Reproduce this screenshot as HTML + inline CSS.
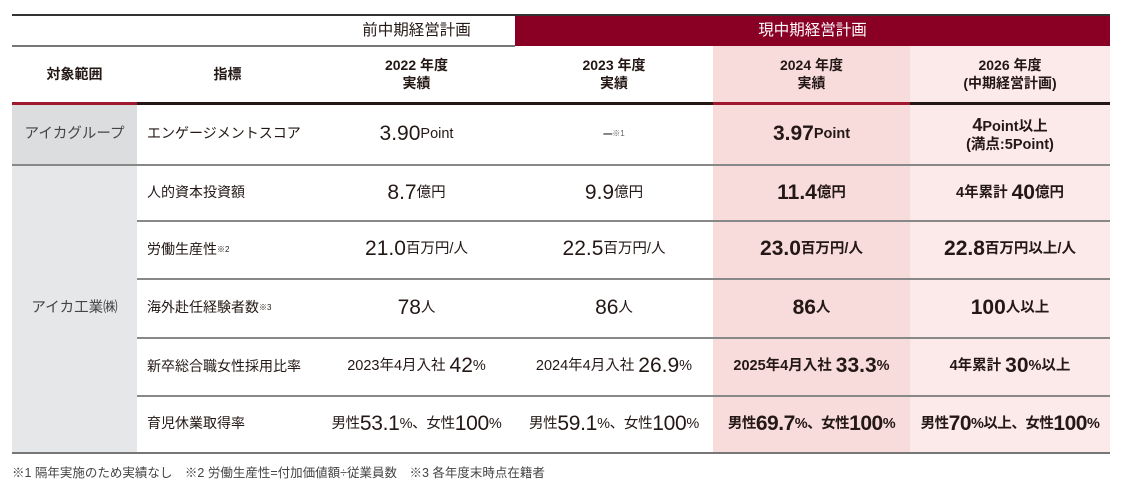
<!DOCTYPE html>
<html><head><meta charset="utf-8"><style>
body{margin:0;background:#fff;width:1129px;height:490px;overflow:hidden;font-family:"Liberation Sans","Noto Sans CJK JP",sans-serif;color:#231815}
.a{position:absolute}
.c{position:absolute;display:flex;align-items:center;justify-content:center;text-align:center;line-height:1.25}
.b{font-size:21px}
.s{font-size:14.5px}
.l{font-size:14px;justify-content:flex-start;padding-left:10px;box-sizing:border-box}
.h{font-size:14px;font-weight:bold}
</style></head><body>
<div class="a" style="left:713px;top:46px;width:197px;height:406px;background:#f8dcdc"></div>
<div class="a" style="left:910px;top:46px;width:200px;height:406px;background:#fce9e9"></div>
<div class="a" style="left:12px;top:103px;width:125px;height:62px;background:#dcdddf"></div>
<div class="a" style="left:12px;top:165px;width:125px;height:287px;background:#e6e7e9"></div>
<div class="a" style="left:515px;top:15px;width:595px;height:31px;background:#8a0024"></div>
<div class="a" style="left:12px;top:14px;width:1098px;height:1.5px;background:#333"></div>
<div class="a" style="left:12px;top:45px;width:503px;height:1.5px;background:#777"></div>
<div class="a" style="left:12px;top:102px;width:1098px;height:2.5px;background:#231815"></div>
<div class="a" style="left:12px;top:102px;width:125px;height:2.5px;background:#a0182f"></div>
<div class="a" style="left:713px;top:102px;width:197px;height:2.5px;background:#a0182f"></div>
<div class="a" style="left:12px;top:164px;width:1098px;height:1.5px;background:#888"></div>
<div class="a" style="left:137px;top:220px;width:973px;height:1.5px;background:#888"></div>
<div class="a" style="left:137px;top:278px;width:973px;height:1.5px;background:#888"></div>
<div class="a" style="left:137px;top:337px;width:973px;height:1.5px;background:#888"></div>
<div class="a" style="left:137px;top:395px;width:973px;height:1.5px;background:#888"></div>
<div class="a" style="left:12px;top:452px;width:1098px;height:1.5px;background:#777"></div>
<div class="c" style="left:318px;top:15px;width:197px;height:31px;font-size:15.5px">前中期経営計画</div>
<div class="c" style="left:515px;top:15px;width:595px;height:31px;font-size:15.5px;color:#fff">現中期経営計画</div>
<div class="c h" style="left:12px;top:46px;width:125px;height:57px">対象範囲</div>
<div class="c h" style="left:137px;top:46px;width:181px;height:57px">指標</div>
<div class="c h" style="left:318px;top:46px;width:197px;height:57px">2022 年度<br>実績</div>
<div class="c h" style="left:515px;top:46px;width:198px;height:57px">2023 年度<br>実績</div>
<div class="c h" style="left:713px;top:46px;width:197px;height:57px">2024 年度<br>実績</div>
<div class="c h" style="left:910px;top:46px;width:200px;height:57px">2026 年度<br>(中期経営計画)</div>
<div class="c s" style="left:12px;top:103px;width:125px;height:62px;color:#444">アイカグループ</div>
<div class="c s" style="left:12px;top:165px;width:125px;height:287px;color:#444">アイカ工業㈱</div>
<div class="c l" style="left:137px;top:103px;width:181px;height:62px">エンゲージメントスコア</div>
<div class="c l" style="left:137px;top:165px;width:181px;height:56px">人的資本投資額</div>
<div class="c l" style="left:137px;top:221px;width:181px;height:57px">労働生産性<sup style="font-size:8px">※2</sup></div>
<div class="c l" style="left:137px;top:279px;width:181px;height:58px">海外赴任経験者数<sup style="font-size:8px">※3</sup></div>
<div class="c l" style="left:137px;top:338px;width:181px;height:57px">新卒総合職女性採用比率</div>
<div class="c l" style="left:137px;top:396px;width:181px;height:56px">育児休業取得率</div>
<div class="c" style="left:318px;top:103px;width:197px;height:62px"><span class="b">3.90</span><span class="s">Point</span></div>
<div class="c" style="left:515px;top:103px;width:198px;height:62px"><span style="font-size:16px">–</span><sup style="font-size:8px;color:#666">※1</sup></div>
<div class="c" style="left:713px;top:103px;width:197px;height:62px;font-weight:bold"><span class="b">3.97</span><span class="s">Point</span></div>
<div class="c s" style="left:910px;top:103px;width:200px;height:62px;font-weight:bold;flex-direction:column"><div><span style="font-size:18px">4</span>Point以上</div><div>(満点:5Point)</div></div>
<div class="c" style="left:318px;top:165px;width:197px;height:56px"><span class="b">8.7</span><span class="s">億円</span></div>
<div class="c" style="left:515px;top:165px;width:198px;height:56px"><span class="b">9.9</span><span class="s">億円</span></div>
<div class="c" style="left:713px;top:165px;width:197px;height:56px;font-weight:bold"><span class="b">11.4</span><span class="s">億円</span></div>
<div class="c" style="left:910px;top:165px;width:200px;height:56px;font-weight:bold"><span class="s">4年累計&nbsp;</span><span class="b">40</span><span class="s">億円</span></div>
<div class="c" style="left:318px;top:221px;width:197px;height:57px"><span class="b">21.0</span><span class="s">百万円/人</span></div>
<div class="c" style="left:515px;top:221px;width:198px;height:57px"><span class="b">22.5</span><span class="s">百万円/人</span></div>
<div class="c" style="left:713px;top:221px;width:197px;height:57px;font-weight:bold"><span class="b">23.0</span><span class="s">百万円/人</span></div>
<div class="c" style="left:910px;top:221px;width:200px;height:57px;font-weight:bold"><span class="b">22.8</span><span class="s">百万円以上/人</span></div>
<div class="c" style="left:318px;top:279px;width:197px;height:58px"><span class="b">78</span><span class="s">人</span></div>
<div class="c" style="left:515px;top:279px;width:198px;height:58px"><span class="b">86</span><span class="s">人</span></div>
<div class="c" style="left:713px;top:279px;width:197px;height:58px;font-weight:bold"><span class="b">86</span><span class="s">人</span></div>
<div class="c" style="left:910px;top:279px;width:200px;height:58px;font-weight:bold"><span class="b">100</span><span class="s">人以上</span></div>
<div class="c" style="left:318px;top:338px;width:197px;height:57px"><span class="s">2023年4月入社&nbsp;</span><span class="b">42</span><span class="s">%</span></div>
<div class="c" style="left:515px;top:338px;width:198px;height:57px"><span class="s">2024年4月入社&nbsp;</span><span class="b">26.9</span><span class="s">%</span></div>
<div class="c" style="left:713px;top:338px;width:197px;height:57px;font-weight:bold"><span class="s">2025年4月入社&nbsp;</span><span class="b">33.3</span><span class="s">%</span></div>
<div class="c" style="left:910px;top:338px;width:200px;height:57px;font-weight:bold"><span class="s">4年累計&nbsp;</span><span class="b">30</span><span class="s">%以上</span></div>
<div class="c" style="left:318px;top:396px;width:197px;height:56px;letter-spacing:-0.3px"><span class="s">男性</span><span class="b">53.1</span><span class="s">%、女性</span><span class="b">100</span><span class="s">%</span></div>
<div class="c" style="left:515px;top:396px;width:198px;height:56px;letter-spacing:-0.3px"><span class="s">男性</span><span class="b">59.1</span><span class="s">%、女性</span><span class="b">100</span><span class="s">%</span></div>
<div class="c" style="left:713px;top:396px;width:197px;height:56px;font-weight:bold;letter-spacing:-0.5px"><span class="s">男性</span><span class="b">69.7</span><span class="s">%、女性</span><span class="b">100</span><span class="s">%</span></div>
<div class="c" style="left:910px;top:396px;width:200px;height:56px;font-weight:bold;letter-spacing:-0.5px"><span class="s">男性</span><span class="b">70</span><span class="s">%以上、女性</span><span class="b">100</span><span class="s">%</span></div>
<div class="a" style="left:12px;top:462px;font-size:12.5px;color:#444;white-space:pre">※1 隔年実施のため実績なし　※2 労働生産性=付加価値額÷従業員数　※3 各年度末時点在籍者</div>
</body></html>
